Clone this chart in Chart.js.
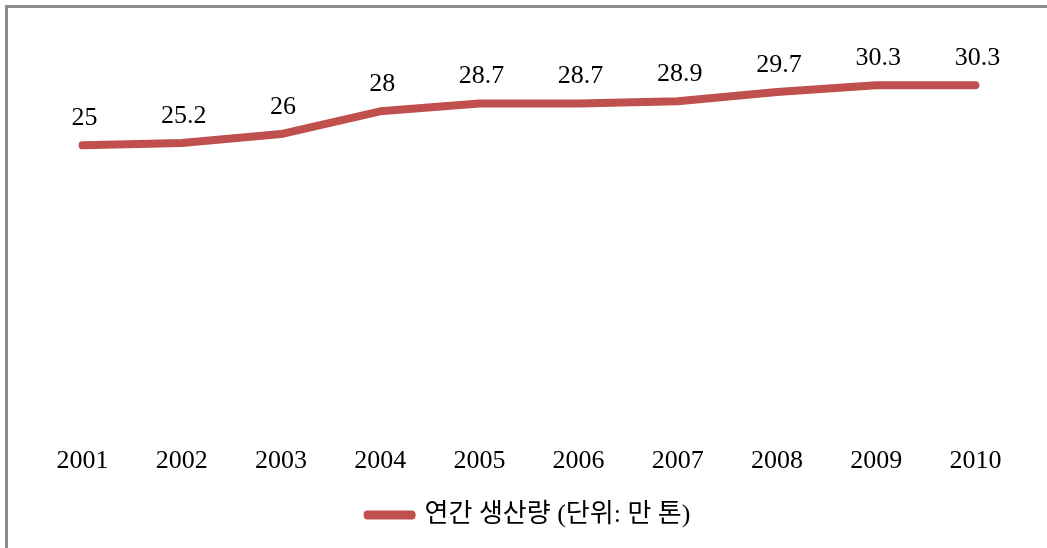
<!DOCTYPE html>
<html>
<head>
<meta charset="utf-8">
<script src="https://cdn.jsdelivr.net/npm/chart.js@4"></script>
<style>
  html, body { margin: 0; padding: 0; background: #fff; }
  body { width: 1047px; height: 548px; overflow: hidden; position: relative; }
  .frame {
    position: absolute; left: 5px; top: 5px; width: 1060px; height: 540px;
    border-top: 3px solid #8c8c8c; border-left: 3px solid #8c8c8c;
    border-bottom: 1px solid #d9d9d9;
  }
  .wrap { position: absolute; left: 0; top: 0; width: 1047px; height: 548px; }
</style>
</head>
<body>
<div class="frame"></div>
<div class="wrap"><canvas id="chart"></canvas></div>
<script>
"use strict";

// data
const years = ['2001', '2002', '2003', '2004', '2005', '2006', '2007', '2008', '2009', '2010'];
const production = [25, 25.2, 26, 28, 28.7, 28.7, 28.9, 29.7, 30.3, 30.3];
const seriesName = '연간 생산량 (단위: 만 톤)';

const serif = "'Liberation Serif', 'DejaVu Serif', 'Noto Sans CJK KR', serif";

// value labels above each point
const valueLabels = {
  id: 'valueLabels',
  afterDatasetsDraw(chart) {
    const ctx = chart.ctx;
    const meta = chart.getDatasetMeta(0);
    ctx.save();
    ctx.font = '26px ' + serif;
    ctx.fillStyle = '#000';
    ctx.textAlign = 'center';
    ctx.textBaseline = 'middle';
    meta.data.forEach((pt, i) => {
      ctx.fillText(String(production[i]), pt.x + 2, pt.y - 27);
    });
    ctx.restore();
  }
};

const ctx = document.getElementById('chart').getContext('2d');
new Chart(ctx, {
  type: 'line',
  data: {
    labels: years,
    datasets: [{
      label: seriesName,
      data: production,
      borderColor: '#C0504D',
      backgroundColor: '#C0504D',
      borderWidth: 8,
      borderCapStyle: 'round',
      borderJoinStyle: 'round',
      pointRadius: 0,
      tension: 0
    }]
  },
  options: {
    responsive: true,
    maintainAspectRatio: false,
    animation: false,
    layout: { padding: { left: 33, right: 22, top: 32, bottom: 10 } },
    plugins: {
      legend: {
        position: 'bottom',
        labels: {
          font: { size: 26, family: serif },
          color: '#000',
          boxWidth: 44,
          boxHeight: 1,
          padding: 16
        }
      },
      tooltip: { enabled: false }
    },
    scales: {
      x: {
        offset: true,
        grid: { display: false },
        border: { display: false },
        ticks: { color: '#000', font: { size: 26, family: serif }, padding: 9 }
      },
      y: {
        display: false,
        min: 0,
        max: 35
      }
    }
  },
  plugins: [valueLabels]
});
</script>
</body>
</html>
